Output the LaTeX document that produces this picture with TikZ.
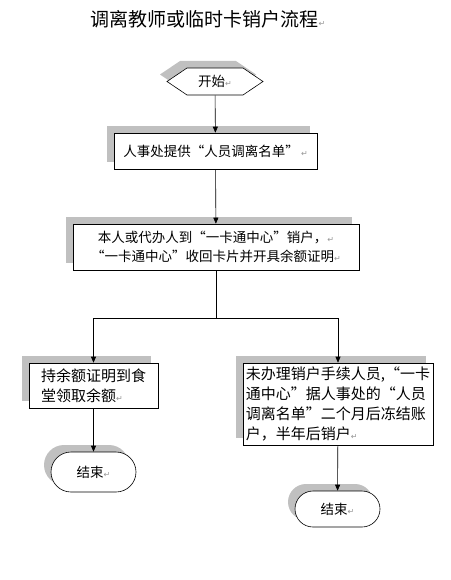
\documentclass[tikz,border=0pt]{standalone}
\usepackage{fontspec}
\newfontfamily\cjk{Noto Sans CJK SC}
\newfontfamily\symfont{DejaVu Sans}
\usetikzlibrary{shapes.geometric, shapes.misc, shapes.symbols, arrows.meta, positioning, shadows}
\usepackage{xcolor}
\definecolor{shade}{RGB}{192,192,192}
\definecolor{markgray}{RGB}{150,150,150}
\newcommand{\retmark}{{\symfont\fontsize{8}{8}\selectfont\color{markgray}↵}}

\begin{document}
\begin{tikzpicture}[
    x=1pt, y=-1pt,
    shadowed/.style={general shadow={fill=shade, shadow xshift=-7pt, shadow yshift=7pt}},
    box/.style={rectangle, draw=black, fill=white, line width=0.6pt, shadowed, inner sep=0pt, font=\cjk\fontsize{13.5}{19}\selectfont},
    terminal/.style={signal, signal to=west and east, signal pointer angle=68, draw=black, fill=white, line width=0.6pt, shadowed, inner sep=0pt, minimum width=96pt, minimum height=27pt, font=\cjk\fontsize{13.5}{16}\selectfont},
    endbox/.style={rounded rectangle, draw=black, fill=white, line width=0.6pt, shadowed, inner sep=0pt, minimum width=85pt, font=\cjk\fontsize{13.5}{16}\selectfont},
    arr/.style={-{Triangle[length=6pt, width=5pt]}, line width=0.6pt},
]
\useasboundingbox (0,0) rectangle (450,580);

% Title
\node[font=\cjk\fontsize{19}{22}\selectfont] (title) at (208,19) {调离教师或临时卡销户流程\retmark};

% Main steps
\node[terminal] (start) at (215,81.5) {开始\retmark};
\node[box, minimum width=203pt, minimum height=36pt] (hr) at (215.5,151) {人事处提供“人员调离名单”\,\retmark};
\node[box, minimum width=286pt, minimum height=46pt, align=center] (cancel) at (216,247) {本人或代办人到“一卡通中心”销户，\retmark\\“一卡通中心”收回卡片并开具余额证明\retmark};

% Branches
\coordinate (split) at (216,318);
\node[box, minimum width=129pt, minimum height=45pt, align=left, font=\cjk\fontsize{15}{20}\selectfont] (canteen) at (93.5,385.5) {持余额证明到食\\堂领取余额\retmark};
\node[box, minimum width=190pt, minimum height=82pt, align=left, font=\cjk\fontsize{15}{20}\selectfont] (freeze) at (338,404) {未办理销户手续人员,“一卡\\通中心”据人事处的“人员\\调离名单”二个月后冻结账\\户，半年后销户\retmark};

% Ends
\node[endbox, minimum height=40pt] (end1) at (93.5,472) {结束\retmark};
\node[endbox, minimum height=36pt] (end2) at (337.5,509) {结束\retmark};

% Arrows
\draw[arr] (start) -- (hr);
\draw[arr] (hr) -- (cancel);
\draw[line width=0.6pt] (cancel) -- (split);
\draw[arr] (split) -| (canteen);
\draw[arr] (split) -| (freeze);
\draw[arr] (canteen) -- (end1);
\draw[arr] (freeze) -- (end2);

\end{tikzpicture}
\end{document}
